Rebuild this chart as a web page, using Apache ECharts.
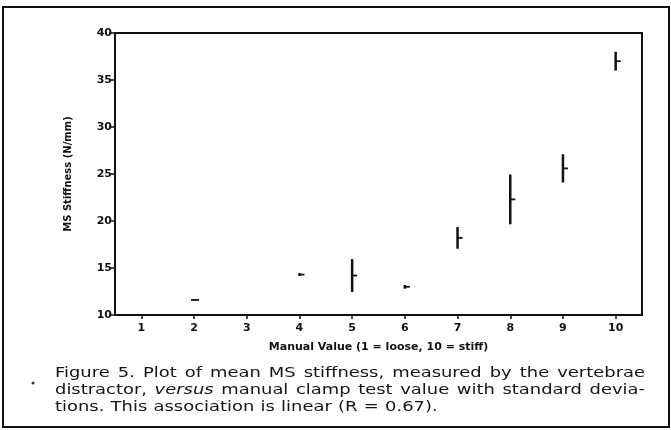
<!DOCTYPE html>
<html>
<head>
<meta charset="utf-8">
<script src="https://cdn.jsdelivr.net/npm/echarts@6/dist/echarts.min.js"></script>
<style>
html,body{margin:0;padding:0;background:#fff;}
#chart{width:671px;height:430px;}
</style>
</head>
<body>
<div id="chart"></div>
<script>
// ---- data ----
const categories = ['1','2','3','4','5','6','7','8','9','10'];
const manualValues = ['2','4','5','6','7','8','9','10'];
const meanStiffness = [11.6, 14.3, 14.2, 13.0, 18.2, 22.3, 25.6, 37.0];
const stdDev = [0, 0.15, 1.75, 0.2, 1.15, 2.65, 1.5, 1.0];
const yTicks = {min: 10, max: 40, interval: 5};
const xTitle = 'Manual Value (1 = loose, 10 = stiff)';
const yTitle = 'MS Stiffness (N/mm)';
const captionLines = [
  {words: [['Figure',0],['5.',0],['Plot',0],['of',0],['mean',0],['MS',0],['stiffness,',0],['measured',0],['by',0],['the',0],['vertebrae',0]], justify: true},
  {words: [['distractor,',0],['versus',1],['manual',0],['clamp',0],['test',0],['value',0],['with',0],['standard',0],['devia-',0]], justify: true},
  {words: [['tions.',0],['This',0],['association',0],['is',0],['linear',0],['(R',0],['=',0],['0.67).',0]], justify: false}
];

const seriesData = manualValues.map((c, i) => [c, meanStiffness[i], stdDev[i]]);

// ---- caption layout (justified words) ----
const capFont = 14, capFamily = 'DejaVu Sans', capScale = 1.28;
const capLeft = 55, capRight = 645, capY0 = 373, capDy = 17;
const cv = document.createElement('canvas').getContext('2d');
function measure(t, it){ cv.font = (it ? 'italic ' : '') + capFont + 'px "' + capFamily + '"'; return cv.measureText(t).width * capScale; }
const graphics = [];
captionLines.forEach((ln, li) => {
  const widths = ln.words.map(w => measure(w[0], w[1]));
  const total = widths.reduce((a,b)=>a+b,0);
  const space = measure(' ', 0);
  const gap = ln.justify ? (capRight - capLeft - total) / (ln.words.length - 1) : space * 1.1;
  let x = capLeft;
  ln.words.forEach((w, wi) => {
    graphics.push({type:'text', x: x, y: capY0 + li*capDy, scaleX: capScale,
      style:{text: w[0], fill:'#151515', font: (w[1]?'italic ':'') + capFont + 'px "' + capFamily + '"', textVerticalAlign:'middle', textAlign:'left'}});
    x += widths[wi] + gap;
  });
});
graphics.push({type:'rect', shape:{x:3, y:7, width:666, height:420}, style:{fill:'none', stroke:'#111', lineWidth:2}});
graphics.push({type:'circle', shape:{cx:33, cy:383, r:1.5}, style:{fill:'#333'}});

const chart = echarts.init(document.getElementById('chart'), null, {renderer:'canvas'});
chart.setOption({
  animation: false,
  backgroundColor: '#fff',
  grid: {left:115, right:29, top:33, bottom:115, show:true, borderColor:'#111', borderWidth:2, containLabel:false},
  xAxis: {
    type:'category', data: categories, boundaryGap: true,
    axisLine:{show:true, lineStyle:{color:'#111', width:2}},
    axisTick:{show:true, alignWithLabel:true, length:4, lineStyle:{color:'#111', width:1.5}},
    axisLabel:{color:'#111', fontSize:11, fontWeight:'bold', fontFamily:'DejaVu Sans', margin:8},
    splitLine:{show:false},
    name: xTitle, nameLocation:'middle', nameGap:27,
    nameTextStyle:{color:'#111', fontSize:11, fontWeight:'bold', fontFamily:'DejaVu Sans'}
  },
  yAxis: {
    type:'value', min: yTicks.min, max: yTicks.max, interval: yTicks.interval,
    axisLine:{show:true, lineStyle:{color:'#111', width:2}},
    axisTick:{show:true, length:6, lineStyle:{color:'#111', width:1.5}},
    axisLabel:{color:'#111', fontSize:11, fontWeight:'bold', fontFamily:'DejaVu Sans', margin:3},
    splitLine:{show:false},
    name: yTitle, nameLocation:'middle', nameGap:42, nameRotate:90,
    nameTextStyle:{color:'#111', fontSize:10, fontWeight:'bold', fontFamily:'DejaVu Sans'}
  },
  series: [{
    type:'custom',
    data: seriesData,
    encode:{x:0, y:1},
    renderItem: function(params, api){
      const x = api.value(0), m = api.value(1), s = api.value(2);
      const mid = api.coord([x, m]);
      const top = api.coord([x, m + s]);
      const bot = api.coord([x, m - s]);
      const children = [];
      if (s > 0) {
        children.push({type:'line', shape:{x1:mid[0], y1:top[1], x2:mid[0], y2:bot[1]}, style:{stroke:'#111', lineWidth:2.5}});
      }
      children.push({type:'line', shape:{x1: s > 0 ? mid[0] : mid[0]-3, y1:mid[1], x2:mid[0]+5, y2:mid[1]}, style:{stroke:'#111', lineWidth:1.8}});
      return {type:'group', children: children};
    }
  }],
  graphic: graphics
});
</script>
</body>
</html>
